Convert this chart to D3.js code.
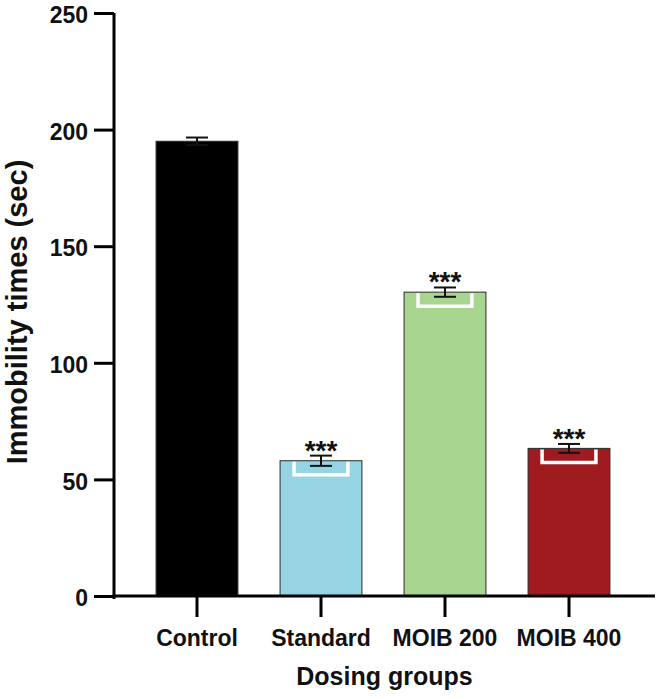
<!DOCTYPE html>
<html>
<head>
<meta charset="utf-8">
<script src="https://cdn.jsdelivr.net/npm/d3@7"></script>
<style>
  body { margin: 0; background: #fff; }
  svg { display: block; font-family: "Liberation Sans", Arial, sans-serif; font-weight: bold; }
</style>
</head>
<body>
<div id="chart"></div>
<script>
// Data
const groups = ['Control', 'Standard', 'MOIB 200', 'MOIB 400'];
const means = [195, 58, 130.3, 63.3];
const errors = [1.6, 2.2, 2, 1.9];
const stars = ['', '***', '***', '***'];
const colors = ['#000000', '#95d5e3', '#a8d590', '#a01b1f'];
const yTicks = [0, 50, 100, 150, 200, 250];

const width = 661, height = 698;
const axisX = 114, axisY = 596, axisEnd = 655;

const svg = d3.select('#chart').append('svg')
    .attr('width', width)
    .attr('height', height);

const x = d3.scaleBand()
    .domain(groups)
    .range([135, 631])
    .paddingInner(0.34)
    .paddingOuter(0.17);

const y = d3.scaleLinear()
    .domain([0, 250])
    .range([axisY, 13]);

const data = groups.map((g, i) => ({ g, v: means[i], e: errors[i], s: stars[i], c: colors[i] }));

// Barres
svg.selectAll('.bar')
    .data(data)
    .enter().append('rect')
    .attr('class', 'bar')
    .attr('x', d => x(d.g))
    .attr('y', d => y(d.v))
    .attr('width', x.bandwidth())
    .attr('height', d => y(0) - y(d.v))
    .attr('fill', d => d.c)
    .attr('stroke', '#2a2a2a')
    .attr('stroke-width', 1);

// White bracket inside treated bars
const inset = 14, depth = 14;
svg.selectAll('.bracket')
    .data(data.filter(d => d.s))
    .enter().append('path')
    .attr('class', 'bracket')
    .attr('fill', 'none')
    .attr('stroke', '#fff')
    .attr('stroke-width', 3.5)
    .attr('d', d => {
        const x0 = x(d.g) + inset, x1 = x(d.g) + x.bandwidth() - inset;
        const t = y(d.v) + 1, b = y(d.v) + depth;
        return `M${x0},${t}V${b}H${x1}V${t}`;
    });

// Error bars
const capW = 22;
const err = svg.selectAll('.err')
    .data(data)
    .enter().append('g')
    .attr('class', 'err')
    .attr('stroke', '#111')
    .attr('stroke-width', 2);

err.append('line')
    .attr('x1', d => x(d.g) + x.bandwidth() / 2)
    .attr('x2', d => x(d.g) + x.bandwidth() / 2)
    .attr('y1', d => y(d.v + d.e))
    .attr('y2', d => y(d.v - d.e));

err.append('line')
    .attr('x1', d => x(d.g) + x.bandwidth() / 2 - capW / 2)
    .attr('x2', d => x(d.g) + x.bandwidth() / 2 + capW / 2)
    .attr('y1', d => y(d.v + d.e))
    .attr('y2', d => y(d.v + d.e));

err.append('line')
    .attr('x1', d => x(d.g) + x.bandwidth() / 2 - capW / 2)
    .attr('x2', d => x(d.g) + x.bandwidth() / 2 + capW / 2)
    .attr('y1', d => y(d.v - d.e))
    .attr('y2', d => y(d.v - d.e));

// Significance stars
svg.selectAll('.star')
    .data(data.filter(d => d.s))
    .enter().append('text')
    .attr('class', 'star')
    .attr('x', d => x(d.g) + x.bandwidth() / 2)
    .attr('y', d => y(d.v + d.e) + 4)
    .attr('text-anchor', 'middle')
    .attr('font-size', 28)
    .attr('fill', '#111')
    .text(d => d.s);

// Y axis
const yAxis = svg.append('g')
    .attr('transform', `translate(${axisX},0)`)
    .call(d3.axisLeft(y).tickValues(yTicks).tickSize(20).tickPadding(6).tickSizeOuter(0));
yAxis.select('.domain').remove();
yAxis.selectAll('.tick line').attr('stroke', '#000').attr('stroke-width', 3);
yAxis.selectAll('.tick text')
    .attr('fill', '#111')
    .attr('font-size', 23)
    .attr('font-family', '"Liberation Sans", Arial, sans-serif')
    .attr('font-weight', 'bold')
    .attr('dy', '0.42em');

svg.append('line')
    .attr('x1', axisX).attr('x2', axisX)
    .attr('y1', y(250)).attr('y2', axisY + 3)
    .attr('stroke', '#000').attr('stroke-width', 3);

// X axis
const xAxis = svg.append('g')
    .attr('transform', `translate(0,${axisY})`)
    .call(d3.axisBottom(x).tickSize(21).tickPadding(13).tickSizeOuter(0));
xAxis.select('.domain').remove();
xAxis.selectAll('.tick line').attr('stroke', '#000').attr('stroke-width', 3);
xAxis.selectAll('.tick text')
    .attr('fill', '#111')
    .attr('font-size', 23)
    .attr('font-family', '"Liberation Sans", Arial, sans-serif')
    .attr('font-weight', 'bold');

svg.append('line')
    .attr('x1', axisX - 1.5).attr('x2', axisEnd)
    .attr('y1', axisY).attr('y2', axisY)
    .attr('stroke', '#000').attr('stroke-width', 3);

// Axis titles
svg.append('text')
    .attr('x', (axisX + axisEnd) / 2)
    .attr('y', 685)
    .attr('text-anchor', 'middle')
    .attr('font-size', 25)
    .attr('fill', '#111')
    .text('Dosing groups');

svg.append('text')
    .attr('transform', 'translate(27,312) rotate(-90)')
    .attr('text-anchor', 'middle')
    .attr('font-size', 29)
    .attr('fill', '#111')
    .text('Immobility times (sec)');
</script>
</body>
</html>
